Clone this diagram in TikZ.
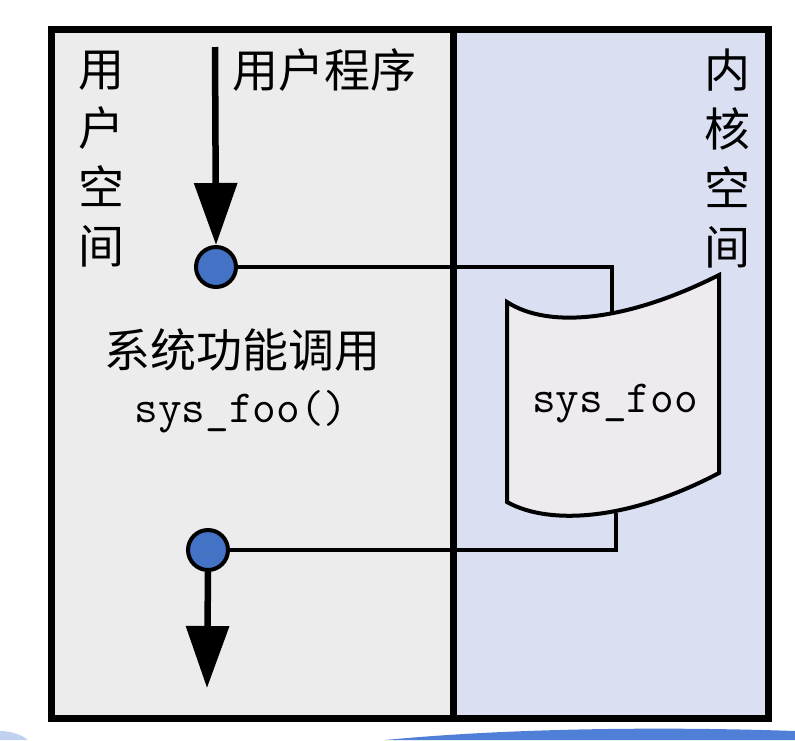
\documentclass[tikz,border=0pt]{standalone}
\usepackage{fontspec}
\newfontfamily\cjk{Noto Sans CJK SC}
\usetikzlibrary{arrows.meta}
\definecolor{userbg}{HTML}{ECECEC}
\definecolor{kernbg}{HTML}{DAE0F2}
\definecolor{dotblue}{HTML}{4472C4}
\definecolor{shapefill}{HTML}{EDEAF0}
\definecolor{swoosh}{HTML}{4F7FD6}
\tikzset{
  cjktext/.style={font=\cjk\fontsize{46}{59}\selectfont, inner sep=0pt, align=center},
  monotext/.style={font=\ttfamily\fontsize{46}{50}\selectfont, inner sep=0pt},
  dot/.style={circle, minimum size=40pt, inner sep=0pt, line width=4pt, draw=black, fill=dotblue},
  conn/.style={line width=4pt, line join=miter},
  flow/.style={line width=6.5pt, -{Triangle[length=62pt,width=42pt]}},
  frame/.style={line width=7pt}
}
\begin{document}
\begin{tikzpicture}[x=1pt,y=-1pt]
\useasboundingbox (0,0) rectangle (795,740);
% backgrounds
\fill[userbg] (51.5,29) rectangle (453.5,718.5);
\fill[kernbg] (453.5,29) rectangle (768.5,718.5);
% bottom swoosh decoration
\fill[swoosh] (385,740) .. controls (500,729) and (650,726) .. (795,731) -- (795,740) -- cycle;
\fill[swoosh!35] (0,731) .. controls (12,731) and (22,735) .. (28,740) -- (0,740) -- cycle;
% frame
\draw[frame] (51.5,29) rectangle (768.5,718.5);
\draw[frame] (453.5,29) -- (453.5,718.5);
% kernel function shape
\draw[line width=4pt, fill=shapefill, line join=miter]
  (507,302) .. controls (550,330) and (630,320) .. (719,275)
  -- (719,473) .. controls (630,520) and (550,526) .. (507,502) -- cycle;
\coordinate (ktop) at (612,315);
\coordinate (kbot) at (616,513);
\node[monotext, anchor=base] (kname) at (615,412) {sys\_foo};
% dots
\node[dot] (c1) at (216,267) {};
\node[dot] (c2) at (208,550) {};
\coordinate (start) at (215,47);
\coordinate (finish) at (207,688);
% connectors
\draw[conn] (c1.east) -| (ktop);
\draw[conn] (c2.east) -| (kbot);
\draw[flow] (start) -- (c1.north);
\draw[flow] (c2.south) -- (finish);
% texts
\node[cjktext] (prog) at (324,70) {用户程序};
\node[cjktext] (uspace) at (101,159) {用\\户\\空\\间};
\node[cjktext] (kspace) at (727,159) {内\\核\\空\\间};
\node[cjktext] (call) at (242,350) {系统功能调用};
\node[monotext, anchor=base] (callname) at (241,422) {sys\_foo()};
\end{tikzpicture}
\end{document}
